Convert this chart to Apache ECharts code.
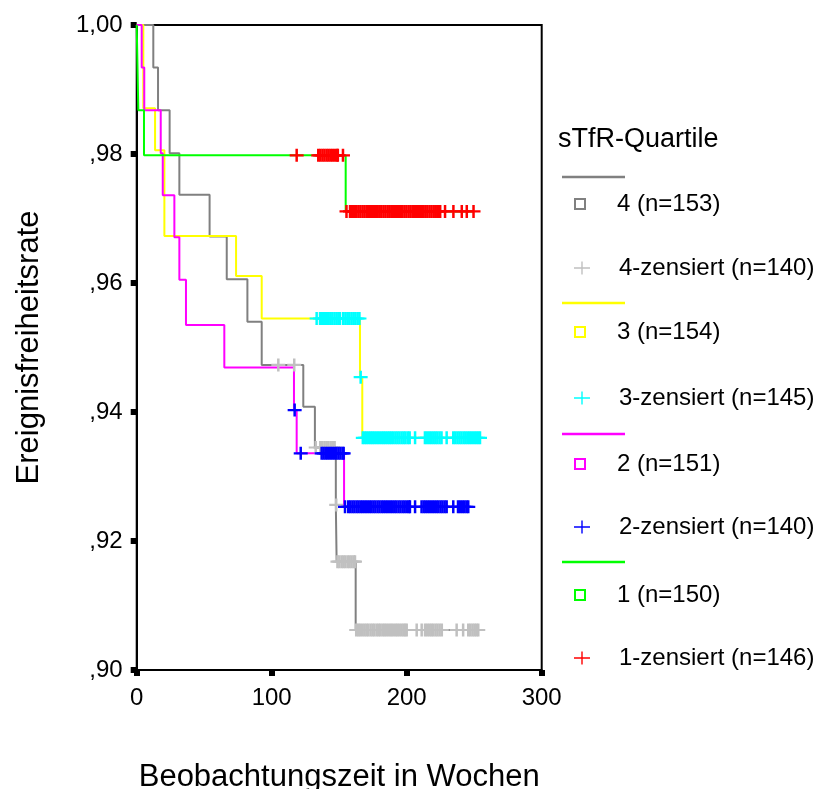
<!DOCTYPE html>
<html>
<head>
<meta charset="utf-8">
<script src="https://cdn.jsdelivr.net/npm/echarts@6/dist/echarts.min.js"></script>
<style>
  html, body { margin: 0; padding: 0; background: #fff; }
  #chart { width: 834px; height: 789px; }
</style>
</head>
<body>
<div id="chart"></div>
<script>
// Kaplan-Meier curves per sTfR quartile: step times (weeks) and event-free rate after each step
const weeks4 = [0, 12.3, 15.8, 24.4, 31.6, 54.0, 66.7, 82.0, 92.6, 123.4, 132.0, 147.5, 148.1, 162.2, 253.0];
const rate4 = [1, 0.9934, 0.9868, 0.9801, 0.9737, 0.9672, 0.9606, 0.9540, 0.9473, 0.9408, 0.9345, 0.9256, 0.9168, 0.9062, 0.9062];

const weeks3 = [0, 4.9, 13.6, 20.5, 73.6, 92.6, 165.4, 167.1, 254.3];
const rate3 = [1, 0.9871, 0.9806, 0.9673, 0.9611, 0.9545, 0.9454, 0.9360, 0.9360];

const weeks2 = [0, 3.7, 5.6, 17.8, 19.3, 27.9, 31.6, 36.5, 64.9, 116.5, 118.5, 153.6, 245.8];
const rate2 = [1, 0.9934, 0.9868, 0.9801, 0.9736, 0.9671, 0.9605, 0.9535, 0.9469, 0.9403, 0.9336, 0.9253, 0.9253];

const weeks1 = [0, 1.2, 5.4, 154.8, 249.5];
const rate1 = [1, 0.9868, 0.9798, 0.9711, 0.9711];

// censored cases (weeks)
const censored4 = [104.9, 116.7,
  132.6, 136.0, 137.4, 139.1, 140.6, 142.0, 143.7, 145.2, 146.6, 147.8,
  148.7, 150.1, 151.8, 153.2, 154.6, 156.3, 157.7, 159.2, 160.8, 161.7,
  162.6, 164.1, 165.4, 167.0, 168.6, 170.1, 171.5, 173.2, 174.7, 176.1, 177.8, 179.3, 180.7, 182.4,
  183.8, 185.3, 186.9, 188.4, 189.8, 191.5, 192.9, 194.4, 196.0, 197.5, 198.8, 200.0,
  207.4, 211.1, 213.6, 215.1, 216.7, 218.2, 219.6, 221.3, 222.8, 224.4, 226.0,
  237.0, 241.8, 245.6, 247.1, 248.7, 250.2, 251.6, 253.0];

const censored3 = [133.3, 135.8, 137.3, 138.9, 140.4, 141.8, 143.4, 144.9, 146.5, 148.0, 149.4, 150.6,
  153.0, 154.6, 156.1, 157.5, 159.1, 160.6, 162.0, 163.6, 165.0, 165.9,
  167.5, 169.0, 170.4, 172.0, 173.5, 174.9, 176.4, 178.0, 179.5, 181.1, 182.6, 184.0, 185.6, 187.1,
  188.5, 190.0, 191.6, 193.1, 194.6, 196.2, 197.7, 199.1, 200.8, 202.2, 206.2,
  213.5, 215.0, 216.6, 218.1, 219.7, 221.2, 222.7, 224.3, 225.8, 229.6,
  234.5, 236.0, 237.6, 239.1, 240.6, 242.2, 243.7, 245.3, 246.8, 248.3, 249.9, 251.4, 252.9, 254.3];

const censored2 = [117.0, 121.5,
  137.0, 138.5, 140.1, 141.6, 143.2, 144.7, 146.3, 147.8, 149.4, 150.9, 152.5, 153.3,
  154.3, 156.7, 158.2, 159.8, 161.3, 162.9, 164.4, 166.0, 167.5, 169.1, 170.6, 172.2, 173.7, 175.3,
  176.8, 178.4, 179.9, 181.5, 183.0, 184.6, 186.1, 187.7, 189.2, 190.8, 192.3, 193.9, 195.4, 197.0,
  198.5, 200.1, 201.6, 202.4, 206.2, 211.0, 212.6, 214.1, 215.7, 217.2, 218.8, 220.3, 221.9, 223.4,
  225.0, 226.5, 228.1, 229.6, 234.5, 238.0, 239.5, 241.1, 242.6, 244.2, 245.6];

const censored1 = [118.5, 134.5, 136.0, 137.6, 139.1, 140.7, 142.2, 143.8, 145.3, 146.9, 148.4, 149.0, 152.8,
  155.4, 158.0, 159.5, 161.1, 162.6, 164.2, 165.7, 167.3, 168.8, 170.4, 171.9, 173.5, 175.0, 176.6,
  178.1, 179.7, 181.2, 182.8, 184.3, 185.9, 187.4, 189.0, 190.5, 192.1, 193.6, 195.2, 196.7, 198.3,
  199.8, 201.4, 202.9, 204.5, 206.0, 207.6, 209.1, 210.7, 212.2, 213.8, 215.3, 216.9, 218.4, 220.0,
  221.5, 223.1, 224.8, 228.4, 234.6, 240.8, 244.5, 249.5];

const groupNames = ['4 (n=153)', '3 (n=154)', '2 (n=151)', '1 (n=150)'];
const censoredNames = ['4-zensiert (n=140)', '3-zensiert (n=145)', '2-zensiert (n=140)', '1-zensiert (n=146)'];
const yTickLabels = ['1,00', ',98', ',96', ',94', ',92', ',90'];
const xTicks = [0, 100, 200, 300];

const lineColors = ['#808080', '#ffff00', '#ff00ff', '#00ff00'];
const censorColors = ['#c0c0c0', '#00ffff', '#0000ff', '#ff0000'];

const curves = [[weeks4, rate4], [weeks3, rate3], [weeks2, rate2], [weeks1, rate1]];
const censored = [censored4, censored3, censored2, censored1];

// rate of a curve at time t (last step at or before t)
function rateAt(weeks, rates, t) {
  let r = rates[0];
  for (let i = 0; i < weeks.length; i++) {
    if (weeks[i] <= t) r = rates[i];
  }
  return r;
}

const font = 'Liberation Sans, Arial, sans-serif';
const plusPath = 'path://M5.75,0H8.25V5.4H14V7.6H8.25V13H5.75V7.6H0V5.4H5.75Z';
const legendPlus = 'path://M7.3,0H8.7V5.8H16V7.2H8.7V13H7.3V7.2H0V5.8H7.3Z';
const legendSquare = 'path://M0,0H9V9H0Z';

const series = [];
curves.forEach(([weeks, rates], i) => {
  series.push({
    name: groupNames[i],
    type: 'line',
    step: 'end',
    showSymbol: false,
    symbol: 'none',
    lineStyle: { color: lineColors[i], width: 2 },
    itemStyle: { color: lineColors[i] },
    data: weeks.map((w, k) => [w, rates[k]]),
    z: 2
  });
});
censored.forEach((times, i) => {
  const [weeks, rates] = curves[i];
  series.push({
    name: censoredNames[i],
    type: 'scatter',
    symbol: plusPath,
    symbolSize: [14, 13],
    itemStyle: { color: censorColors[i], opacity: 1 },
    data: times.map(t => [t, rateAt(weeks, rates, t)]),
    z: 3
  });
});

// legend rows: [center y, name, icon kind, colour]
const legendRows = [
  [203, groupNames[0], 'square', lineColors[0]],
  [267, censoredNames[0], 'plus', censorColors[0]],
  [331, groupNames[1], 'square', lineColors[1]],
  [397, censoredNames[1], 'plus', censorColors[1]],
  [463, groupNames[2], 'square', lineColors[2]],
  [526, censoredNames[2], 'plus', censorColors[2]],
  [594, groupNames[3], 'square', lineColors[3]],
  [657, censoredNames[3], 'plus', censorColors[3]]
];
const legendLineY = [177, 303, 434, 562];

const legends = legendRows.map(([y, name, kind, color]) => ({
  left: 574,
  top: y - 11,
  padding: 0,
  itemWidth: 64,
  itemHeight: kind === 'square' ? 10 : 13,
  textStyle: { fontSize: 24, color: '#000', fontFamily: font },
  data: [kind === 'square'
    ? { name, icon: legendSquare, itemStyle: { color: '#fff', borderColor: color, borderWidth: 2 } }
    : { name, icon: legendPlus, itemStyle: { color, borderWidth: 0 } }]
}));

const chart = echarts.init(document.getElementById('chart'), null, { renderer: 'canvas' });
chart.setOption({
  animation: false,
  backgroundColor: '#fff',
  title: {
    text: 'sTfR-Quartile',
    left: 558,
    top: 126,
    padding: 0,
    textStyle: { fontSize: 27, fontWeight: 'normal', color: '#000', fontFamily: font }
  },
  legend: legends,
  grid: {
    left: 136.7, right: 292.3, top: 25, bottom: 119,
    outerBoundsMode: 'none',
    show: true, borderColor: '#000', borderWidth: 2, backgroundColor: 'transparent'
  },
  xAxis: {
    type: 'value',
    min: xTicks[0],
    max: xTicks[xTicks.length - 1],
    interval: 100,
    name: 'Beobachtungszeit in Wochen',
    nameLocation: 'middle',
    nameGap: 92,
    nameTextStyle: { fontSize: 31, color: '#000', fontFamily: font },
    axisLine: { lineStyle: { color: '#000', width: 2 } },
    axisTick: { show: true, length: 6, lineStyle: { color: '#000', width: 6 } },
    axisLabel: { fontSize: 24, color: '#000', fontFamily: font, margin: 16 },
    splitLine: { show: false }
  },
  yAxis: {
    type: 'value',
    min: 0.9,
    max: 1,
    interval: 0.02,
    name: 'Ereignisfreiheitsrate',
    nameLocation: 'middle',
    nameGap: 92,
    nameTextStyle: { fontSize: 31, color: '#000', fontFamily: font },
    axisLine: { lineStyle: { color: '#000', width: 2 } },
    axisTick: { show: true, length: 6, lineStyle: { color: '#000', width: 6 } },
    axisLabel: {
      fontSize: 24, color: '#000', fontFamily: font, margin: 14,
      formatter: v => yTickLabels[Math.round((1 - v) / 0.02)]
    },
    splitLine: { show: false }
  },
  graphic: legendLineY.map((y, i) => ({
    type: 'line',
    shape: { x1: 562, y1: y, x2: 625, y2: y },
    style: { stroke: lineColors[i], lineWidth: 2.5 },
    silent: true
  })),
  series
});
</script>
</body>
</html>
